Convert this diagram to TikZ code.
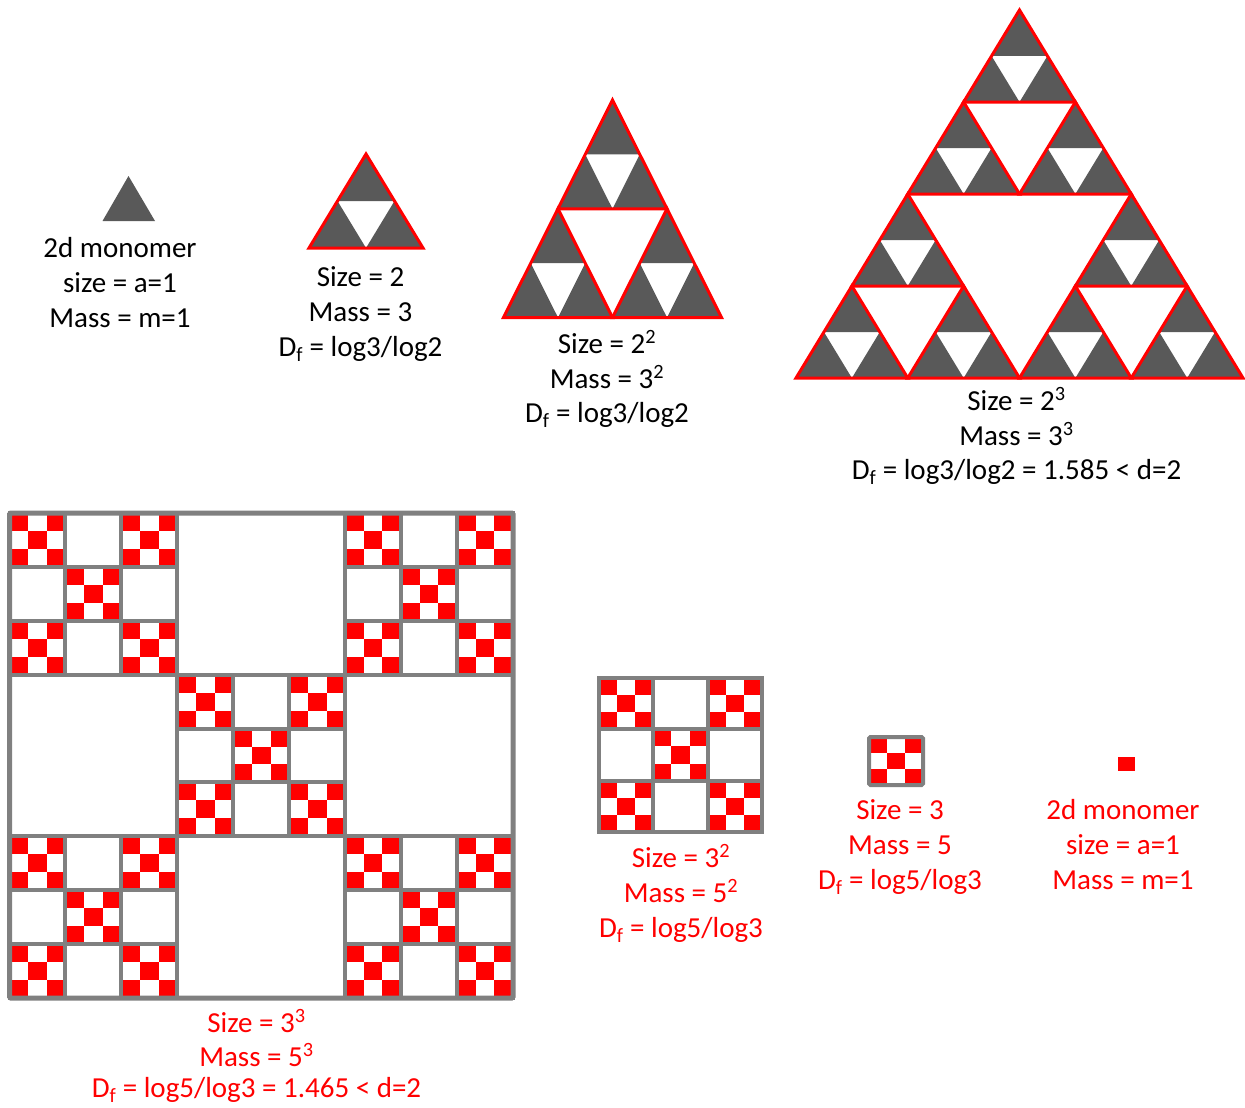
\documentclass[tikz,border=0pt]{standalone}
\usepackage{fontspec}
\setmainfont{Carlito}
\definecolor{tgray}{HTML}{595959}
\definecolor{sgray}{HTML}{808080}
\definecolor{tred}{HTML}{FF0000}
\tikzset{
  lab/.style={anchor=base, inner sep=0pt, font=\fontsize{29}{35}\selectfont},
  redlab/.style={lab, text=tred},
  tedge/.style={draw=tred, line width=3pt, line join=miter},
  sgrid/.style={draw=sgray, line width=4pt},
}
% level-1 Sierpinski triangle: base-left x, base y, width, height
\newcommand\sierone[4]{%
  \fill[tgray] (#1,#2) -- ({#1+#3/2},#2) -- ({#1+#3/4},{#2-#4/2}) -- cycle;
  \fill[tgray] ({#1+#3/2},#2) -- ({#1+#3},#2) -- ({#1+3*#3/4},{#2-#4/2}) -- cycle;
  \fill[tgray] ({#1+#3/4},{#2-#4/2}) -- ({#1+3*#3/4},{#2-#4/2}) -- ({#1+#3/2},{#2-#4}) -- cycle;
  \draw[tedge] (#1,#2) -- ({#1+#3},#2) -- ({#1+#3/2},{#2-#4}) -- cycle;
}
% level-1 square pattern: top-left x, y, width, height
\newcommand\sqone[4]{%
  \foreach \i/\j in {0/0,2/0,1/1,0/2,2/2}
    \fill[tred] ({#1+\i*#3/3},{#2+\j*#4/3}) rectangle ++({#3/3},{#4/3});
}
\newcommand\sqtwo[4]{%
  \foreach \a/\b in {0/0,2/0,1/1,0/2,2/2}{
    \pgfmathsetmacro\xa{#1+\a*#3/3}
    \pgfmathsetmacro\ya{#2+\b*#4/3}
    \pgfmathsetmacro\wa{#3/3}
    \pgfmathsetmacro\ha{#4/3}
    \sqone{\xa}{\ya}{\wa}{\ha}
  }
  \foreach \k in {1,2}{
    \draw[sgrid] ({#1+\k*#3/3},#2) -- ++(0,#4);
    \draw[sgrid] (#1,{#2+\k*#4/3}) -- ++(#3,0);
  }
  \draw[sgrid] (#1,#2) rectangle ++(#3,#4);
}
\newcommand\sqthree[4]{%
  \foreach \c/\d in {0/0,2/0,1/1,0/2,2/2}{
    \pgfmathsetmacro\xb{#1+\c*#3/3}
    \pgfmathsetmacro\yb{#2+\d*#4/3}
    \pgfmathsetmacro\wb{#3/3}
    \pgfmathsetmacro\hb{#4/3}
    \sqtwo{\xb}{\yb}{\wb}{\hb}
  }
  \foreach \k in {1,2}{
    \draw[sgrid] ({#1+\k*#3/3},#2) -- ++(0,#4);
    \draw[sgrid] (#1,{#2+\k*#4/3}) -- ++(#3,0);
  }
  \draw[sgrid, line width=5pt, rounded corners=1.5pt] (#1,#2) rectangle ++(#3,#4);
}
\begin{document}
\begin{tikzpicture}[x=1pt, y=-1pt]
\useasboundingbox (0,0) rectangle (1245,1108);

% ---------- triangles ----------
% monomer
\fill[tgray] (102.5,221) -- (155,221) -- (128.5,176) -- cycle;
% level 1
\sierone{309}{248}{114}{94}
% level 2
\sierone{503.5}{317.5}{109}{108.75}
\sierone{612.5}{317.5}{109}{108.75}
\sierone{558}{208.75}{109}{108.75}
% level 3
\sierone{796}{378}{111.75}{92}
\sierone{907.75}{378}{111.75}{92}
\sierone{851.875}{286}{111.75}{92}
\sierone{1019.5}{378}{111.75}{92}
\sierone{1131.25}{378}{111.75}{92}
\sierone{1075.375}{286}{111.75}{92}
\sierone{907.75}{194}{111.75}{92}
\sierone{1019.5}{194}{111.75}{92}
\sierone{963.625}{102}{111.75}{92}

% ---------- squares ----------
\sqthree{9.5}{513}{503.5}{485}
\sqtwo{599}{678}{163}{154}
\sqone{869}{737}{54}{48}
\draw[sgrid, rounded corners=1.5pt] (869,737) rectangle ++(54,48);
\fill[tred] (1118,757) rectangle (1135,771);

% ---------- labels ----------
\node[lab] (m1a) at (120,257) {2d monomer};
\node[lab] (m1b) at (120,292) {size = a=1};
\node[lab] (m1c) at (120,327) {Mass = m=1};

\node[lab] (t1a) at (360.5,286) {Size = 2};
\node[lab] (t1b) at (360.5,321) {Mass = 3};
\node[lab] (t1c) at (360.5,356) {D\textsubscript{f} = log3/log2};

\node[lab] (t2a) at (607,353) {Size = 2\textsuperscript{2}};
\node[lab] (t2b) at (607,388) {Mass = 3\textsuperscript{2}};
\node[lab] (t2c) at (607,422) {D\textsubscript{f} = log3/log2};

\node[lab] (t3a) at (1016.5,410) {Size = 2\textsuperscript{3}};
\node[lab] (t3b) at (1016.5,445) {Mass = 3\textsuperscript{3}};
\node[lab] (t3c) at (1016.5,479) {D\textsubscript{f} = log3/log2 = 1.585 < d=2};

\node[redlab] (s3a) at (256.5,1032) {Size = 3\textsuperscript{3}};
\node[redlab] (s3b) at (256.5,1066) {Mass = 5\textsuperscript{3}};
\node[redlab] (s3c) at (256.5,1097) {D\textsubscript{f} = log5/log3 = 1.465 < d=2};

\node[redlab] (s2a) at (681,867) {Size = 3\textsuperscript{2}};
\node[redlab] (s2b) at (681,902) {Mass = 5\textsuperscript{2}};
\node[redlab] (s2c) at (681,937) {D\textsubscript{f} = log5/log3};

\node[redlab] (s1a) at (900,819) {Size = 3};
\node[redlab] (s1b) at (900,854) {Mass = 5};
\node[redlab] (s1c) at (900,889) {D\textsubscript{f} = log5/log3};

\node[redlab] (m2a) at (1123,819) {2d monomer};
\node[redlab] (m2b) at (1123,854) {size = a=1};
\node[redlab] (m2c) at (1123,889) {Mass = m=1};
\end{tikzpicture}
\end{document}
